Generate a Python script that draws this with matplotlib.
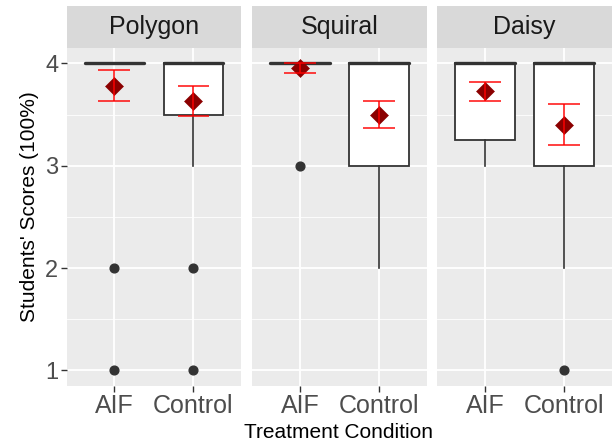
import numpy as np
import matplotlib
matplotlib.use("Agg")
import matplotlib.pyplot as plt

plt.rcParams['font.family'] = ['Liberation Sans', 'DejaVu Sans']

# facets and groups
shapes = ["Polygon", "Squiral", "Daisy"]
groups = ["AIF", "Control"]

# box statistics per facet, order: AIF, Control
q1 = [[4.0, 3.5], [4.0, 3.0], [3.25, 3.0]]
med = [[4.0, 4.0], [4.0, 4.0], [4.0, 4.0]]
q3 = [[4.0, 4.0], [4.0, 4.0], [4.0, 4.0]]
whislo = [[4.0, 3.0], [4.0, 2.0], [3.0, 2.0]]
whishi = [[4.0, 4.0], [4.0, 4.0], [4.0, 4.0]]
fliers = [[[2, 1], [2, 1]], [[3], []], [[], [1]]]

# means and their error bars
means = [[3.78, 3.63], [3.955, 3.50], [3.73, 3.40]]
err_lo = [[3.63, 3.49], [3.91, 3.37], [3.63, 3.20]]
err_hi = [[3.935, 3.775], [4.0, 3.63], [3.82, 3.60]]

y_ticks = [1, 2, 3, 4]

W, H = 615, 445
fig = plt.figure(figsize=(W / 100, H / 100), dpi=100)

panel_left = [66.7, 252.3, 437.3]
panel_w = 174.3
panel_top, panel_bot = 48, 385.7
strip_top = 6

dark = "#333333"
for i, shape in enumerate(shapes):
    ax = fig.add_axes([panel_left[i] / W, 1 - panel_bot / H,
                       panel_w / W, (panel_bot - panel_top) / H])
    ax.set_facecolor("#EBEBEB")
    for s in ax.spines.values():
        s.set_visible(False)

    stats = []
    for j, g in enumerate(groups):
        stats.append(dict(q1=q1[i][j], med=med[i][j], q3=q3[i][j],
                          whislo=whislo[i][j], whishi=whishi[i][j],
                          fliers=fliers[i][j], label=g))
    pos = np.arange(1, len(groups) + 1)
    ax.bxp(stats, positions=pos, widths=0.75, showcaps=False, patch_artist=True,
           boxprops=dict(facecolor="white", edgecolor=dark, linewidth=1.3),
           whiskerprops=dict(color=dark, linewidth=1.2),
           medianprops=dict(color=dark, linewidth=2.4, solid_capstyle="round"),
           flierprops=dict(marker="o", markerfacecolor=dark, markeredgecolor=dark,
                           markersize=6.3),
           zorder=2)

    # mean diamonds and error bars
    ax.plot(pos, means[i], linestyle="none", marker="D", markersize=9.2,
            markeredgewidth=0.4, color="#8B0000", zorder=3)
    ax.vlines(pos, err_lo[i], err_hi[i], color="red", alpha=0.75, linewidth=1.4, zorder=4)
    ax.hlines(err_lo[i], pos - 0.2, pos + 0.2, color="red", alpha=0.75, linewidth=1.4, zorder=4)
    ax.hlines(err_hi[i], pos - 0.2, pos + 0.2, color="red", alpha=0.75, linewidth=1.4, zorder=4)

    ax.set_xlim(0.4, 2.6)
    ax.set_ylim(0.85, 4.15)
    ax.set_xticks(pos)
    ax.set_xticklabels(groups, fontsize=18)
    ax.set_yticks(y_ticks)
    ax.set_yticks([1.5, 2.5, 3.5], minor=True)
    ax.grid(which="major", color="white", linewidth=1.3)
    ax.grid(which="minor", axis="y", color="white", linewidth=0.6)
    ax.set_axisbelow(True)
    ax.tick_params(which="major", length=4, width=1, color=dark, labelcolor="#4D4D4D", pad=2)
    ax.tick_params(which="minor", length=0)
    if i == 0:
        ax.set_yticklabels([str(t) for t in y_ticks], fontsize=17)
    else:
        ax.tick_params(axis="y", length=0, labelleft=False)

    # facet strip
    sax = fig.add_axes([panel_left[i] / W, 1 - panel_top / H,
                        panel_w / W, (panel_top - strip_top) / H])
    sax.set_facecolor("#D9D9D9")
    sax.set_xticks([])
    sax.set_yticks([])
    for s in sax.spines.values():
        s.set_visible(False)
    sax.text(0.5, 0.5, shape, ha="center", va="center", fontsize=18, color="#1A1A1A")

fig.text(339 / W, 1 - 433 / H, "Treatment Condition", ha="center", va="center", fontsize=15)
fig.text(30 / W, 1 - 207 / H, "Students' Scores (100%)", ha="center", va="center",
         rotation=90, fontsize=15)

fig.savefig("out.png", dpi=100)
